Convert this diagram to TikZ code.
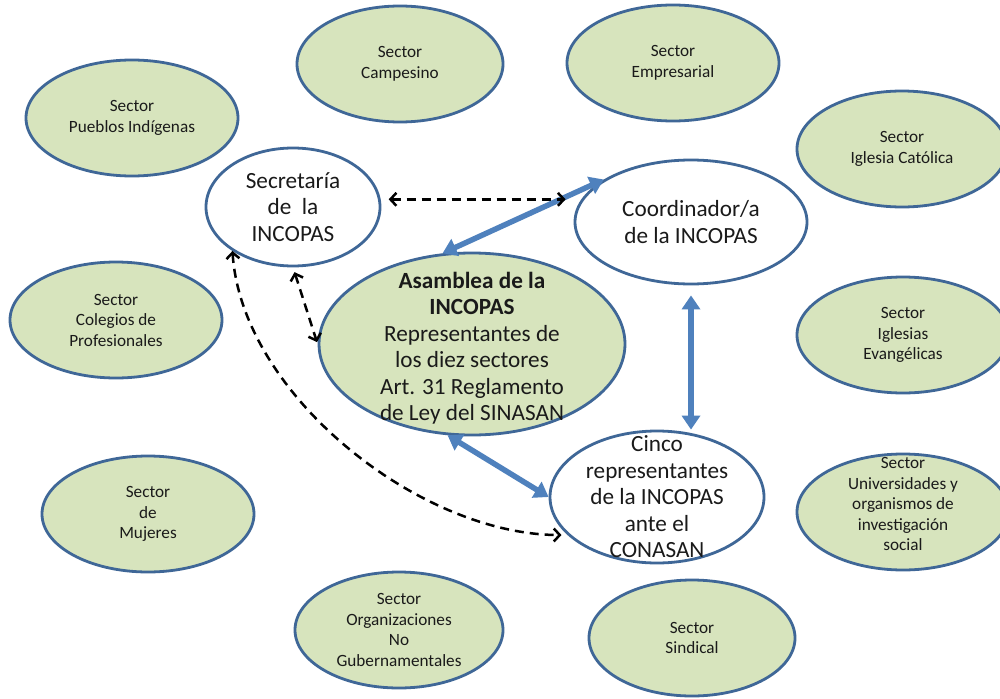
\documentclass[tikz,border=0pt]{standalone}
\usepackage{fontspec}
\setmainfont{Carlito}
\usetikzlibrary{shapes.geometric,arrows.meta,calc}
\definecolor{secfill}{HTML}{D7E4BD}
\definecolor{edgeblue}{HTML}{3F6797}
\definecolor{arrowblue}{HTML}{4F81BD}
\definecolor{txt}{HTML}{1A1A1A}
\begin{document}
\begin{tikzpicture}[x=1pt,y=-1pt,
  sector/.style={ellipse,draw=edgeblue,line width=2.8pt,fill=secfill,inner sep=0pt,minimum width=212pt,minimum height=116pt},
  core/.style={ellipse,draw=edgeblue,line width=2.8pt,fill=white,inner sep=0pt},
  sectxt/.style={align=center,text=txt,inner sep=0pt,font=\fontsize{17.2}{20.5}\selectfont},
  coretxt/.style={align=center,text=txt,inner sep=0pt,font=\fontsize{23.2}{26.5}\selectfont},
  bluearrow/.style={draw=arrowblue,line width=5.5pt,{Triangle[width=18pt,length=14pt]}-{Triangle[width=18pt,length=14pt]}},
  dasharrow/.style={draw=black,line width=2.5pt,dash pattern=on 9pt off 6pt,{Straight Barb[length=6pt,width=13pt]}-{Straight Barb[length=6pt,width=13pt]}}]
\useasboundingbox (0,0) rectangle (1000,698);
\fill[white] (0,0) rectangle (1000,698);

% sector ellipses
\node[sector] (pueblos) at (132,118) [label={[sectxt]center:{Sector\\Pueblos Indígenas}}] {};
\node[sector,minimum width=206pt] (campesino) at (400,64) [label={[sectxt]center:{Sector\\Campesino}}] {};
\node[sector] (empresarial) at (673,63) [label={[sectxt]center:{Sector\\Empresarial}}] {};
\node[sector,minimum width=210pt] (catolica) at (902,149) [label={[sectxt]center:{Sector\\Iglesia Católica}}] {};
\node[sector] (colegios) at (116,320) [label={[sectxt]center:{Sector\\Colegios de\\Profesionales}}] {};
\node[sector] (evangelicas) at (903,335) [label={[sectxt]center:{Sector\\Iglesias\\Evangélicas}}] {};
\node[sector] (mujeres) at (148,514) [label={[sectxt]center:{Sector\\de\\Mujeres}}] {};
\node[sector] (universidades) at (903,512) [label={[sectxt,yshift=8pt]center:{Sector\\Universidades y\\organismos de\\investigación\\social}}] {};
\node[sector,minimum width=208pt] (ong) at (399,630) [label={[sectxt]center:{Sector\\Organizaciones\\No\\Gubernamentales}}] {};
\node[sector,minimum width=206pt] (sindical) at (692,638) [label={[sectxt]center:{Sector\\Sindical}}] {};

% core ellipses
\node[core,minimum width=174pt,minimum height=118pt] (secr) at (293,207) [label={[coretxt]center:{Secretaría\\de\ \ la\\INCOPAS}}] {};
\node[core,minimum width=232pt,minimum height=124pt] (coord) at (691,222) [label={[coretxt]center:{Coordinador/a\\de la INCOPAS}}] {};
\node[core,fill=secfill,minimum width=306pt,minimum height=182pt] (asam) at (472,344) [label={[coretxt,yshift=-4pt]center:{\textbf{Asamblea de la}\\\textbf{INCOPAS}\\Representantes de\\los diez sectores\\Art. 31 Reglamento\\de Ley del SINASAN}}] {};
\node[core,minimum width=214pt,minimum height=132pt] (cinco) at (657,497) [label={[coretxt]center:{Cinco\\representantes\\de la INCOPAS\\ante el\\CONASAN}}] {};

% blue connectors
\draw[bluearrow] (asam.108) -- (coord.154);
\draw[bluearrow,shorten <=10pt] (coord.south) -- (coord.south |- cinco.north);
\draw[bluearrow] (asam.-105) -- (cinco.west);

% dashed connectors
\draw[dasharrow,shorten <=8pt,shorten >=8pt] (secr.5) -- (coord.west |- secr.5);
\draw[dasharrow,shorten <=5pt,shorten >=2pt] (secr.south) -- (asam.west);
\draw[dasharrow,shorten >=6pt] (secr.216) .. controls (242,395) and (420,535) .. (cinco.203);
\end{tikzpicture}
\end{document}
